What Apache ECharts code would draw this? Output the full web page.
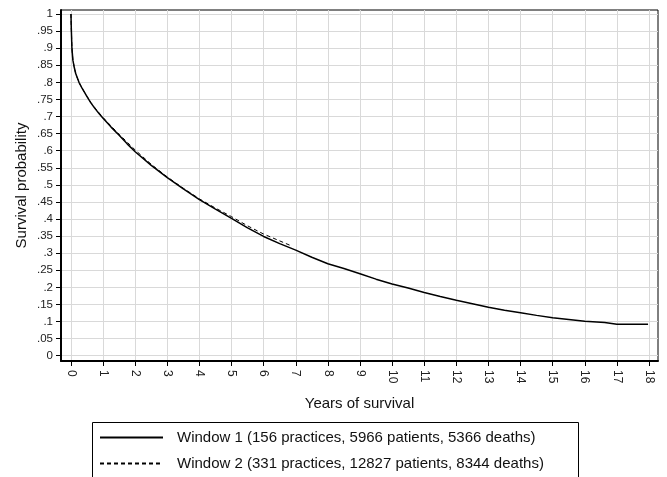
<!DOCTYPE html>
<html>
<head>
<meta charset="utf-8">
<script src="https://cdn.jsdelivr.net/npm/echarts@6/dist/echarts.min.js"></script>
<style>
html,body{margin:0;padding:0;background:#fff;}
#c{width:667px;height:477px;}
</style>
</head>
<body>
<div id="c"></div>
<script>
const xTickLabels = ["0","1","2","3","4","5","6","7","8","9","10","11","12","13","14","15","16","17","18"];
const yTickLabels = ["0",".05",".1",".15",".2",".25",".3",".35",".4",".45",".5",".55",".6",".65",".7",".75",".8",".85",".9",".95","1"];

const w1Years = [0, 0.01, 0.03, 0.06, 0.1, 0.15, 0.25, 0.35, 0.5, 0.62, 0.75, 0.88, 1, 1.25, 1.5, 1.75, 2, 2.5, 3, 3.5, 4, 4.5, 5, 5.5, 6, 6.5, 7, 7.5, 8, 8.5, 9, 9.5, 10, 10.5, 11, 11.5, 12, 12.5, 13, 13.5, 14, 14.5, 15, 15.5, 16, 16.5, 16.62, 16.68, 17, 17.5, 17.97];
const w1Surv  = [1, 0.96, 0.9, 0.865, 0.845, 0.825, 0.8, 0.782, 0.758, 0.74, 0.723, 0.708, 0.695, 0.669, 0.645, 0.62, 0.597, 0.557, 0.521, 0.488, 0.457, 0.429, 0.402, 0.374, 0.349, 0.328, 0.309, 0.288, 0.269, 0.255, 0.24, 0.224, 0.21, 0.198, 0.185, 0.173, 0.162, 0.152, 0.142, 0.133, 0.126, 0.118, 0.111, 0.106, 0.101, 0.098, 0.097, 0.092, 0.092, 0.092, 0.092];

const w2Years = [0, 0.01, 0.03, 0.06, 0.1, 0.15, 0.25, 0.35, 0.5, 0.62, 0.75, 0.88, 1, 1.25, 1.5, 1.75, 2, 2.5, 3, 3.5, 4, 4.5, 5, 5.5, 6, 6.5, 6.85];
const w2Surv  = [1, 0.96, 0.9, 0.865, 0.845, 0.825, 0.8, 0.782, 0.759, 0.741, 0.725, 0.71, 0.697, 0.672, 0.648, 0.625, 0.602, 0.56, 0.523, 0.49, 0.459, 0.432, 0.407, 0.38, 0.356, 0.336, 0.322];

const seriesNames = [
  "Window 1 (156 practices, 5966 patients, 5366 deaths)",
  "Window 2 (331 practices, 12827 patients, 8344 deaths)"
];

const FONT = "'Liberation Sans', Arial, sans-serif";
const xTicks = xTickLabels.map(Number);
const yTicks = yTickLabels.map(parseFloat);

const chart = echarts.init(document.getElementById('c'), null, {renderer: 'canvas'});
chart.setOption({
  animation: false,
  backgroundColor: '#fff',
  textStyle: {fontFamily: FONT},
  grid: {
    left: 61, right: 9, top: 10, bottom: 116,
    show: true, borderColor: '#000', borderWidth: 1, backgroundColor: '#fff'
  },
  graphic: [{
    type: 'rect', left: 92, top: 422, z: -1,
    shape: {width: 486, height: 80},
    style: {fill: '#fff', stroke: '#000', lineWidth: 1}
  }],
  legend: {
    orient: 'vertical',
    left: 92, top: 422,
    padding: [8, 10, 2, 7],
    itemWidth: 63, itemHeight: 14, itemGap: 11,
    itemStyle: {opacity: 0},
    textStyle: {fontFamily: FONT, fontSize: 15, color: '#111', padding: [0, 0, 0, 9]},
    data: seriesNames
  },
  xAxis: {
    type: 'value',
    min: -0.31, max: 18.28,
    name: 'Years of survival',
    nameLocation: 'middle', nameGap: 35, nameMoveOverlap: false,
    nameTextStyle: {fontFamily: FONT, fontSize: 15, color: '#111'},
    axisLine: {show: true, onZero: false, lineStyle: {color: '#000', width: 2}},
    axisTick: {show: true, length: 5, lineStyle: {color: '#000', width: 1}, customValues: xTicks},
    axisLabel: {
      customValues: xTicks, rotate: -90, margin: 9,
      fontFamily: FONT, fontSize: 12, color: '#222',
      formatter: v => xTickLabels[Math.round(v)]
    },
    splitLine: {show: true, lineStyle: {color: '#d9d9d9', width: 1}}
  },
  yAxis: {
    type: 'value',
    min: -0.0155, max: 1.0117,
    name: 'Survival probability',
    nameLocation: 'middle', nameGap: 32, nameRotate: 90, nameMoveOverlap: false,
    nameTextStyle: {fontFamily: FONT, fontSize: 15, color: '#111'},
    axisLine: {show: true, onZero: false, lineStyle: {color: '#000', width: 2}},
    axisTick: {show: true, length: 5, lineStyle: {color: '#000', width: 1}, customValues: yTicks},
    axisLabel: {
      customValues: yTicks, margin: 8,
      fontFamily: FONT, fontSize: 11.5, color: '#222',
      formatter: v => yTickLabels[Math.round(v / 0.05)]
    },
    splitLine: {show: true, lineStyle: {color: '#d9d9d9', width: 1}}
  },
  series: [
    {
      name: seriesNames[0], type: 'line', symbol: 'none', smooth: false,
      lineStyle: {color: '#000', width: 1.5, type: 'solid'},
      itemStyle: {color: '#000'},
      data: w1Years.map((t, i) => [t, w1Surv[i]]),
      z: 3
    },
    {
      name: seriesNames[1], type: 'line', symbol: 'none', smooth: false,
      lineStyle: {color: '#000', width: 1, type: [4, 3]},
      itemStyle: {color: '#000'},
      data: w2Years.map((t, i) => [t, w2Surv[i]]),
      z: 2
    }
  ]
});
</script>
</body>
</html>
